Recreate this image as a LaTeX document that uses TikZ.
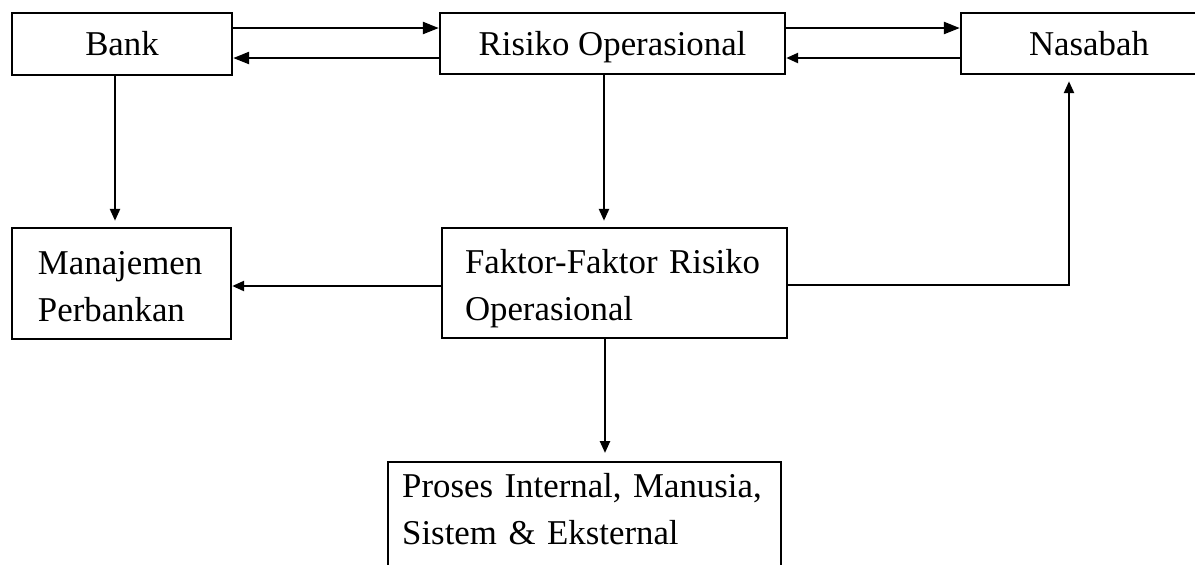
\documentclass[tikz,border=0pt]{standalone}
\usepackage{fontspec}
\setmainfont{Liberation Serif}
\usetikzlibrary{arrows.meta,calc}
\begin{document}
\begin{tikzpicture}[x=0.5pt,y=-0.5pt,
  box/.style={draw, line width=1.2pt, rectangle, inner sep=0pt, font=\fontsize{17.4}{23.5}\selectfont},
  arr/.style={line width=1.2pt, -{Triangle[length=8pt,width=6pt]}},
  arrs/.style={line width=1.2pt, -{Triangle[length=6pt,width=5pt]}}]
\useasboundingbox (0,0) rectangle (1195,564);
% boxes
\node[box, minimum width=110pt, minimum height=31pt] (bank) at (122,44) {Bank};
\node[box, minimum width=172.5pt, minimum height=30.5pt, text depth=0pt] (risiko) at (612.5,43.5) {Risiko Operasional};
\node[box, minimum width=128pt, minimum height=30.5pt] (nasabah) at (1089,43.5) {Nasabah};
\node[box, minimum width=109.5pt, minimum height=55.5pt, inner xsep=13pt, text width=83.5pt, align=left] (manaj) at (121.5,283.5) {\rule{0pt}{14.5pt}Manajemen\\Perbankan};
\node[box, minimum width=172.5pt, minimum height=55pt, inner xsep=11.5pt, text width=149.5pt, align=left] (faktor) at (614.5,283) {\rule{0pt}{17.3pt}Faktor-Faktor Risiko\\Operasional};
\node[box, minimum width=196.5pt, minimum height=70pt, inner xsep=7pt, text width=182.5pt, align=left, anchor=north west] (proses) at (387,461) {Proses Internal, Manusia,\\Sistem \& Eksternal\rule[-22.8pt]{0pt}{22.8pt}};
% connectors
\draw[arr] ([yshift=8pt]bank.east) -- ([yshift=8pt]bank.east -| risiko.west);
\draw[arr] ([yshift=-7.25pt]risiko.west) -- ([yshift=-7.25pt]risiko.west -| bank.east);
\draw[arr] ([yshift=7.75pt]risiko.east) -- ([yshift=7.75pt]risiko.east -| nasabah.west);
\draw[arrs] ([yshift=-7.25pt]nasabah.west) -- ([yshift=-7.25pt]nasabah.west -| risiko.east);
\draw[arrs, shorten >=3pt] ([xshift=-3.5pt]bank.south) -- ([xshift=-3.5pt]bank.south |- manaj.north);
\draw[arrs, shorten >=3pt] ([xshift=-4.25pt]risiko.south) -- ([xshift=-4.25pt]risiko.south |- faktor.north);
\draw[arrs, shorten >=4pt] ([xshift=-4.75pt]faktor.south) -- ([xshift=-4.75pt]faktor.south |- proses.north);
\draw[arrs] ([yshift=-1.5pt]faktor.west) -- ([yshift=-1.5pt]faktor.west -| manaj.east);
\coordinate (corner) at (1069,285);
\draw[arrs, shorten >=3pt] ([yshift=-1pt]faktor.east) -- (corner) -- (corner |- nasabah.south);
\end{tikzpicture}
\end{document}
